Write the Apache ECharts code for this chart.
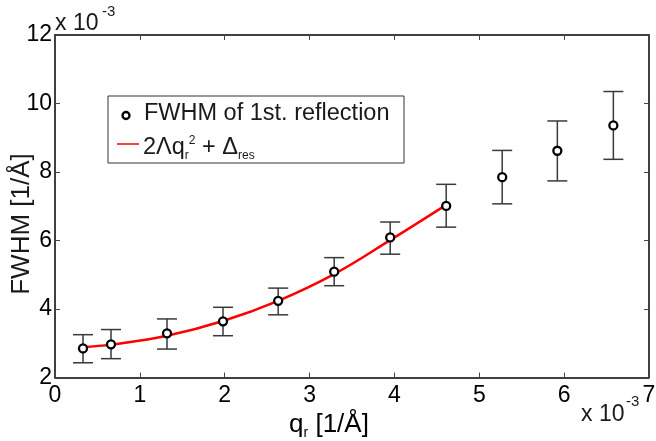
<!DOCTYPE html>
<html>
<head>
<meta charset="utf-8">
<script src="https://cdn.jsdelivr.net/npm/echarts@6/dist/echarts.min.js"></script>
<style>
html,body{margin:0;padding:0;background:#fff;}
#chart{width:656px;height:441px;}
</style>
</head>
<body>
<div id="chart"></div>
<script>
// q_r values (x 10^-3 1/Å)
const qValues = [0.33, 0.66, 1.32, 1.98, 2.63, 3.29, 3.95, 4.61, 5.27, 5.92, 6.58];
// FWHM values (x 10^-3 1/Å)
const fwhm = [2.85, 2.97, 3.29, 3.64, 4.24, 5.09, 6.09, 7.01, 7.85, 8.62, 9.36];
const errLow = [2.43, 2.55, 2.83, 3.22, 3.83, 4.68, 5.60, 6.39, 7.07, 7.74, 8.37];
const errHigh = [3.25, 3.40, 3.71, 4.05, 4.61, 5.50, 6.54, 7.64, 8.63, 9.49, 10.35];
// fit curve 2Λq_r^2 + Δ_res read at the first eight q positions
const fitQ = [0.33, 0.66, 1.32, 1.98, 2.63, 3.29, 3.95, 4.61];
const fitY = [2.89, 2.96, 3.22, 3.65, 4.24, 5.02, 6.01, 7.04];
const xTicks = [0, 1, 2, 3, 4, 5, 6, 7];
const yTicks = [2, 4, 6, 8, 10, 12];

const FONT = '"Liberation Sans", Arial, Helvetica, sans-serif';
const TXT = '#1a1a1a';

const chart = echarts.init(document.getElementById('chart'), null, {renderer: 'canvas'});

const axisCommon = {
  axisLine: {show: true, onZero: false, lineStyle: {color: '#000', width: 1.5}},
  axisTick: {show: true, inside: true, length: 5, lineStyle: {color: '#444', width: 1}},
  splitLine: {show: false}
};

const option = {
  animation: false,
  backgroundColor: '#fff',
  grid: {left: 55, right: 7, top: 35, bottom: 63.5, containLabel: false, outerBoundsMode: 'none'},
  xAxis: [
    Object.assign({
      type: 'value', min: xTicks[0], max: xTicks[xTicks.length - 1], interval: 1, position: 'bottom',
      axisLabel: {color: '#000', fontFamily: FONT, fontSize: 23, margin: 7}
    }, axisCommon),
    Object.assign({
      type: 'value', min: 0, max: 7, interval: 1, position: 'top',
      axisLabel: {show: false}
    }, axisCommon)
  ],
  yAxis: [
    Object.assign({
      type: 'value', min: yTicks[0], max: yTicks[yTicks.length - 1], interval: 2, position: 'left',
      axisLabel: {color: '#000', fontFamily: FONT, fontSize: 23, margin: 3}
    }, axisCommon),
    Object.assign({
      type: 'value', min: 2, max: 12, interval: 2, position: 'right',
      axisLabel: {show: false}
    }, axisCommon)
  ],
  series: [
    {
      type: 'custom',
      name: 'errors',
      clip: false,
      z: 2,
      data: qValues.map((q, i) => [q, errLow[i], errHigh[i]]),
      renderItem: function (params, api) {
        const x = api.value(0);
        const pTop = api.coord([x, api.value(2)]);
        const pBot = api.coord([x, api.value(1)]);
        const hw = 10;
        const st = {stroke: '#3a3a3a', lineWidth: 1.5};
        return {
          type: 'group',
          children: [
            {type: 'line', shape: {x1: pTop[0], y1: pTop[1], x2: pBot[0], y2: pBot[1]}, style: st},
            {type: 'line', shape: {x1: pTop[0] - hw, y1: pTop[1], x2: pTop[0] + hw, y2: pTop[1]}, style: st},
            {type: 'line', shape: {x1: pBot[0] - hw, y1: pBot[1], x2: pBot[0] + hw, y2: pBot[1]}, style: st}
          ]
        };
      }
    },
    {
      type: 'line',
      name: 'fit',
      data: fitQ.map((q, i) => [q, fitY[i]]),
      smooth: 0.4,
      showSymbol: false,
      lineStyle: {color: '#ff0000', width: 2.5},
      z: 3
    },
    {
      type: 'scatter',
      name: 'FWHM',
      data: qValues.map((q, i) => [q, fwhm[i]]),
      symbol: 'circle',
      symbolSize: 8,
      itemStyle: {color: '#fff', borderColor: '#000', borderWidth: 2.3, opacity: 1},
      z: 4
    }
  ],
  graphic: [
    // axis titles
    {type: 'text', x: 329, y: 425, z: 11, style: {
      text: '{m|q}{sub|r}{m| [1/Å]}', align: 'center', verticalAlign: 'middle',
      rich: {
        m: {font: '26px ' + FONT, color: TXT, lineHeight: 30, verticalAlign: 'middle'},
        sub: {font: '14px ' + FONT, color: TXT, verticalAlign: 'bottom', padding: [0, 0, 0, 0]}
      }
    }},
    {type: 'text', x: 22, y: 224, rotation: Math.PI / 2, z: 11, style: {
      text: 'FWHM [1/Å]', font: '26px ' + FONT, fill: TXT, align: 'center', verticalAlign: 'middle'
    }},
    // exponent labels
    {type: 'text', left: 55, top: 12, style: {text: 'x 10', font: '23px ' + FONT, fill: TXT}},
    {type: 'text', left: 102, top: 4, style: {text: '-3', font: '15px ' + FONT, fill: TXT}},
    {type: 'text', left: 581, top: 403, style: {text: 'x 10', font: '23px ' + FONT, fill: TXT}},
    {type: 'text', left: 626, top: 394, style: {text: '-3', font: '15px ' + FONT, fill: TXT}},
    // legend box
    {type: 'rect', shape: {x: 108, y: 96, width: 296, height: 67}, style: {fill: '#fff', stroke: '#333', lineWidth: 1}, z: 10},
    {type: 'circle', shape: {cx: 126, cy: 115.5, r: 3.5}, style: {fill: '#fff', stroke: '#000', lineWidth: 2.3}, z: 11},
    {type: 'text', x: 144, y: 114, style: {text: 'FWHM of 1st. reflection', font: '23.5px ' + FONT, fill: TXT, verticalAlign: 'middle'}, z: 11},
    {type: 'line', shape: {x1: 117, y1: 144, x2: 139, y2: 144}, style: {stroke: '#ff0000', lineWidth: 1.5}, z: 11},
    {type: 'text', x: 143, y: 135, z: 11, style: {
      text: '{m|2Λq}{sub|r}{sup|2}{m| + Δ}{sub|res}',
      fill: TXT, verticalAlign: 'top',
      rich: {
        m: {font: '23.5px ' + FONT, fill: TXT, color: TXT, lineHeight: 25, verticalAlign: 'middle'},
        sub: {font: '12px ' + FONT, color: TXT, verticalAlign: 'bottom', padding: [0, 0, -2, 0]},
        sup: {font: '12px ' + FONT, color: TXT, verticalAlign: 'top', padding: [0, 0, 0, 0]}
      }
    }}
  ]
};

chart.setOption(option);
</script>
</body>
</html>
